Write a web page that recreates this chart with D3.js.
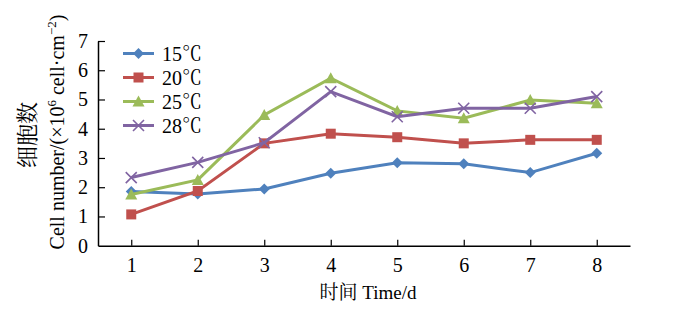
<!DOCTYPE html>
<html><head><meta charset="utf-8">
<script src="https://cdn.jsdelivr.net/npm/d3@7"></script>
<style>
html,body{margin:0;padding:0;background:#fff;}
svg{display:block;font-family:"Liberation Serif","Times New Roman","Noto Serif CJK SC","Noto Sans CJK SC",serif;}
</style></head>
<body><svg id="chart" width="678" height="323"></svg>
<script>
const days = [1, 2, 3, 4, 5, 6, 7, 8];
const seriesNames = ["15℃", "20℃", "25℃", "28℃"];
const s15 = [1.85, 1.77, 1.94, 2.48, 2.84, 2.80, 2.50, 3.16];
const s20 = [1.07, 1.87, 3.50, 3.83, 3.71, 3.50, 3.62, 3.62];
const s25 = [1.75, 2.25, 4.47, 5.73, 4.61, 4.36, 4.98, 4.87];
const s28 = [2.33, 2.85, 3.52, 5.27, 4.41, 4.70, 4.70, 5.10];
const yTicks = [0, 1, 2, 3, 4, 5, 6, 7];

const colors = ["#4F81BD", "#C0504D", "#9BBB59", "#8064A2"];
const symbols = ["diamond", "square", "triangle", "cross"];
const allSeries = [s15, s20, s25, s28];

const svg = d3.select("#chart");
const plotL = 98, plotR = 630, plotT = 41, plotB = 245.7;

const x = d3.scalePoint().domain(days).range([plotL, plotR]).padding(0.5);
const y = d3.scaleLinear().domain([0, 7]).range([plotB, plotT]);

const xAxis = svg.append("g").attr("transform", `translate(0,${plotB})`)
  .call(d3.axisBottom(x).tickSizeInner(-6).tickSizeOuter(0).tickPadding(12));
const yAxis = svg.append("g").attr("transform", `translate(${plotL},0)`)
  .call(d3.axisLeft(y).tickValues(yTicks).tickFormat(d3.format("d")).tickSizeInner(-7).tickSizeOuter(0).tickPadding(10));
[xAxis, yAxis].forEach(g => {
  g.select(".domain").attr("stroke", "#000").attr("stroke-width", 1.5);
  g.selectAll(".tick line").attr("stroke", "#000").attr("stroke-width", 1.2);
  g.selectAll(".tick text").attr("fill", "#000")
    .style("font-family", "'Liberation Serif','Times New Roman',serif").style("font-size", "20px");
});
yAxis.selectAll(".tick").filter(d => d === 0).select("line").remove();

function marker(g, type, cx, cy, color) {
  if (type === "diamond") {
    g.append("path").attr("d", `M${cx},${cy-5.5}L${cx+5.5},${cy}L${cx},${cy+5.5}L${cx-5.5},${cy}Z`).attr("fill", color);
  } else if (type === "square") {
    g.append("rect").attr("x", cx-5).attr("y", cy-5).attr("width", 10).attr("height", 10).attr("fill", color);
  } else if (type === "triangle") {
    g.append("path").attr("d", `M${cx},${cy-6}L${cx+6},${cy+5}L${cx-6},${cy+5}Z`).attr("fill", color);
  } else {
    g.append("path").attr("d", `M${cx-5.5},${cy-5.5}L${cx+5.5},${cy+5.5}M${cx-5.5},${cy+5.5}L${cx+5.5},${cy-5.5}`)
      .attr("stroke", color).attr("stroke-width", 1.6).attr("fill", "none");
  }
}

const line = d3.line().x((d, i) => x(days[i])).y(d => y(d));
allSeries.forEach((vals, k) => {
  const g = svg.append("g");
  g.append("path").datum(vals).attr("d", line).attr("fill", "none")
    .attr("stroke", colors[k]).attr("stroke-width", 3).attr("stroke-linejoin", "miter");
  vals.forEach((v, i) => marker(g, symbols[k], x(days[i]), y(v), colors[k]));
});

const legY = [53.5, 77.5, 101.5, 125.5];
seriesNames.forEach((name, k) => {
  const g = svg.append("g");
  g.append("line").attr("x1", 123).attr("x2", 154).attr("y1", legY[k]).attr("y2", legY[k])
    .attr("stroke", colors[k]).attr("stroke-width", 3);
  marker(g, symbols[k], 138.5, legY[k], colors[k]);
  g.append("text").attr("x", 162).attr("y", legY[k] + 7).attr("font-size", 20).attr("fill", "#000").text(name);
});

svg.append("text").attr("x", 368).attr("y", 299).attr("text-anchor", "middle")
  .attr("font-size", 19).attr("fill", "#000").text("时间 Time/d");

svg.append("text").attr("transform", "translate(35,135) rotate(-90)").attr("text-anchor", "middle")
  .attr("font-size", 22).attr("fill", "#000").text("细胞数");

const yt = svg.append("text").attr("transform", "translate(64,132) rotate(-90)").attr("text-anchor", "middle")
  .attr("font-size", 20).attr("fill", "#000");
yt.append("tspan").text("Cell number/(×10");
yt.append("tspan").attr("dy", -8).attr("font-size", 13).text("6");
yt.append("tspan").attr("dy", 8).text(" cell·cm");
yt.append("tspan").attr("dy", -8).attr("font-size", 13).text("−2");
yt.append("tspan").attr("dy", 8).text(")");
</script></body></html>
